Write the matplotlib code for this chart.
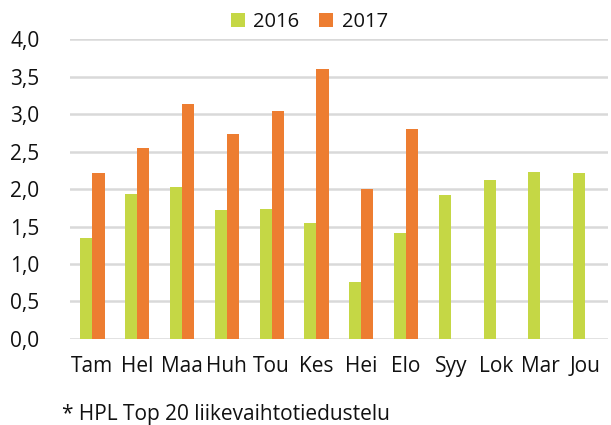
import matplotlib.pyplot as plt
import numpy as np
from matplotlib.ticker import FuncFormatter

# Kuukaudet ja arvot
months = ["Tam", "Hel", "Maa", "Huh", "Tou", "Kes", "Hei", "Elo", "Syy", "Lok", "Mar", "Jou"]
values_2016 = [1.35, 1.94, 2.03, 1.72, 1.73, 1.55, 0.76, 1.42, 1.92, 2.12, 2.23, 2.21]
values_2017 = [2.21, 2.55, 3.13, 2.74, 3.04, 3.60, 2.00, 2.80]

plt.rcParams['font.family'] = ['Open Sans', 'DejaVu Sans']

fig = plt.figure(figsize=(6.11, 4.25), dpi=100)
ax = fig.add_axes([0.1146, 0.2024, 0.88, 0.7056])

x = np.arange(len(months))
w = 0.27
ax.bar(x - w / 2, values_2016, width=w, color="#C5D745", label="2016", zorder=3)
ax.bar(x[:len(values_2017)] + w / 2, values_2017, width=w, color="#ED7D31", label="2017", zorder=3)

ax.set_xlim(-0.5, len(months) - 0.5)
ax.set_ylim(0, 4.0)
ax.set_yticks(np.arange(0, 4.01, 0.5))
ax.yaxis.set_major_formatter(FuncFormatter(lambda v, p: f"{v:.1f}".replace(".", ",")))
ax.set_xticks(x)
ax.set_xticklabels(months)
ax.tick_params(axis="both", length=0, labelsize=15, colors="#111111")
ax.tick_params(axis="x", pad=12)
ax.tick_params(axis="y", pad=22)

ax.grid(axis="y", color="#D9D9D9", linewidth=1.8, zorder=0)
for s in ax.spines.values():
    s.set_visible(False)

ax.legend(loc="upper center", bbox_to_anchor=(0.445, 1.15), ncol=2, frameon=False,
          fontsize=14.5, handlelength=0.7, handleheight=0.7, columnspacing=1.0, handletextpad=0.4,
          labelcolor="#111111")

fig.text(0.102, 0.012, "* HPL Top 20 liikevaihtotiedustelu", fontsize=15, color="#111111")

plt.savefig("out.png", dpi=100)
